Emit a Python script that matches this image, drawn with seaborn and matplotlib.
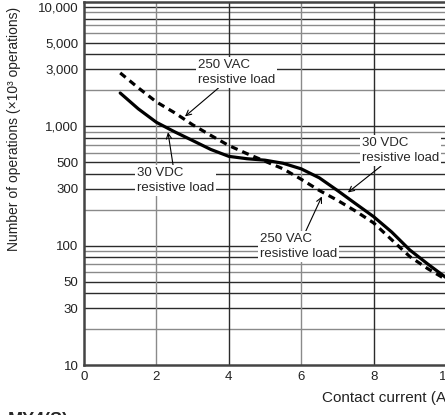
import numpy as np
import pandas as pd
import matplotlib
matplotlib.use("Agg")
import matplotlib.pyplot as plt
import seaborn as sns

# Curves (contact current in A, operations in x10^3)
current = [1.0, 1.5, 2.0, 2.5, 3.0, 3.5, 4.0, 4.5, 5.0, 5.5, 6.0, 6.5, 7.0, 7.5, 8.0, 8.5, 9.0, 9.5, 10.0]
ops_30vdc = [1900, 1400, 1080, 900, 760, 640, 560, 535, 520, 490, 440, 370, 290, 225, 175, 130, 92, 70, 54]
ops_250vac = [2800, 2100, 1600, 1300, 1030, 840, 690, 590, 510, 440, 360, 290, 240, 195, 155, 112, 81, 64, 52]

x_ticks = [0, 2, 4, 6, 8, 10]
y_ticks = [10, 30, 50, 100, 300, 500, 1000, 3000, 5000, 10000]
y_ticklabels = ["10", "30", "50", "100", "300", "500", "1,000", "3,000", "5,000", "10,000"]

sns.set_style("white")
plt.rcParams["font.family"] = ["Liberation Sans", "DejaVu Sans"]

fig = plt.figure(figsize=(4.45, 4.15), dpi=100)
ax = fig.add_axes([84 / 445, 50 / 415, 12 * 36.2 / 445, 363 / 415])
ax.set_yscale("log")
ax.set_xlim(0, 12)
ax.set_ylim(10, 11000)

# grid lines: darker and lighter ones as in the printed chart
dark = "#2b2b2b"
light = "#8a8a8a"
for dec in [10, 100, 1000]:
    for m in range(1, 10):
        v = dec * m
        if v <= 10:
            continue
        c = dark if m in (1, 3, 4, 5, 8) else light
        ax.axhline(v, color=c, lw=1.0, zorder=0)
ax.axhline(10000, color=dark, lw=1.0, zorder=0)
for i, xv in enumerate([2, 4, 6, 8, 10]):
    ax.axvline(xv, color=light if i % 2 == 0 else dark, lw=1.0, zorder=0)

df = pd.DataFrame({"current": current, "vdc": ops_30vdc, "vac": ops_250vac})
sns.lineplot(data=df, x="current", y="vdc", ax=ax, color="black", lw=2.3, zorder=3)
sns.lineplot(data=df, x="current", y="vac", ax=ax, color="black", lw=2.3,
             linestyle=(0, (2.2, 1.6)), zorder=3)

box = dict(facecolor="white", edgecolor="none", pad=1.5)
arrow = dict(arrowstyle="->", color="black", lw=0.8, shrinkA=0, shrinkB=0)
fs = 9.5
ax.annotate("250 VAC\nresistive load", xy=(2.79, 1210), xytext=(3.15, 2820),
            ha="left", va="center", fontsize=fs, bbox=box, arrowprops=arrow,
            linespacing=1.3, zorder=5)
ax.annotate("30 VDC\nresistive load", xy=(2.32, 890), xytext=(1.46, 350),
            ha="left", va="center", fontsize=fs, bbox=box, arrowprops=arrow,
            linespacing=1.3, zorder=5)
ax.annotate("30 VDC\nresistive load", xy=(7.29, 279), xytext=(7.68, 628),
            ha="left", va="center", fontsize=fs, bbox=box, arrowprops=arrow,
            linespacing=1.3, zorder=5)
ax.annotate("250 VAC\nresistive load", xy=(6.57, 258), xytext=(4.86, 98),
            ha="left", va="center", fontsize=fs, bbox=box, arrowprops=arrow,
            linespacing=1.3, zorder=5)

ax.set_xticks(x_ticks)
ax.set_xticklabels([str(t) for t in x_ticks])
ax.set_yticks(y_ticks)
ax.set_yticklabels(y_ticklabels)
ax.minorticks_off()
ax.tick_params(length=0, labelsize=9.5, colors="#222222", pad=4)
ax.set_xlabel("")
ax.set_ylabel("Number of operations (×10³ operations)", fontsize=10, color="#222222")
ax.yaxis.set_label_coords(-0.145, 0.65)

for s in ["left", "bottom", "top"]:
    ax.spines[s].set_color("#444444")
    ax.spines[s].set_linewidth(1.8)
ax.spines["right"].set_visible(False)

fig.text(322 / 445, 1 - 398 / 415, "Contact current (A)", fontsize=11,
         ha="left", va="center", color="#222222")
fig.text(8 / 445, 1 - 412 / 415, "MY4(S)", fontsize=13, fontweight="bold",
         ha="left", va="top")

fig.savefig("out.png", dpi=100)
